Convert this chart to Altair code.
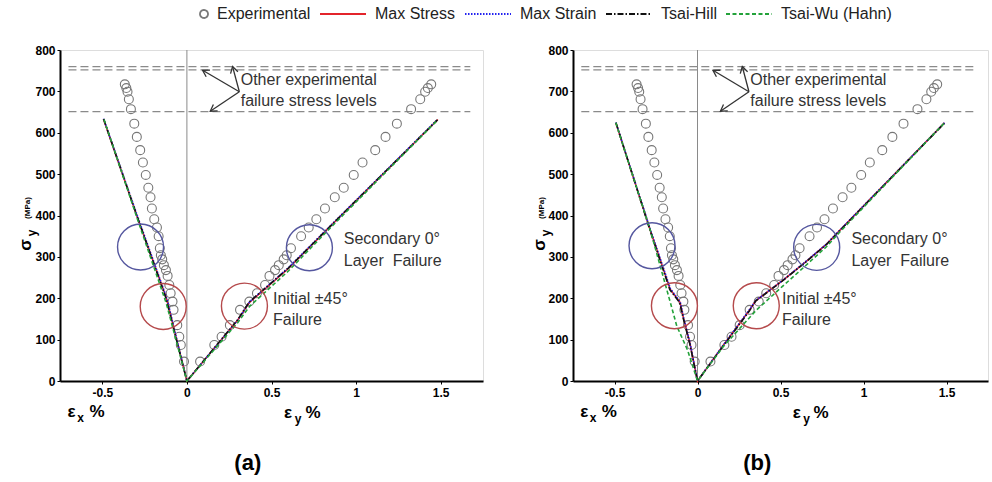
import math
import altair as alt
import pandas as pd

FONT = "Liberation Sans"

# ---------------- series / legend ----------------
series_names = ["Experimental", "Max Stress", "Max Strain", "Tsai-Hill", "Tsai-Wu (Hahn)"]
series_colors = ["#7a7a7a", "#e3242b", "#2323f0", "#111111", "#23a23a"]
series_dashes = [[1, 0], [1, 0], [1.5, 1.5], [6, 2, 1.5, 2], [4, 2.5]]

# ---------------- experimental data (stress MPa, strains %) ----------------
exp_stress = [47, 87, 107, 135, 172, 192, 212, 232, 254, 268, 280, 294, 304, 321, 350,
              371, 391, 417, 444, 467, 498, 528, 558, 590, 622, 657, 681, 699, 708, 717]
exp_eps_x = [-0.017, -0.036, -0.045, -0.057, -0.079, -0.085, -0.096, -0.104, -0.114, -0.124,
             -0.136, -0.146, -0.154, -0.160, -0.167, -0.177, -0.193, -0.207, -0.215, -0.228,
             -0.243, -0.260, -0.276, -0.296, -0.311, -0.331, -0.343, -0.351, -0.358, -0.367]
exp_eps_y = [0.078, 0.162, 0.205, 0.254, 0.314, 0.369, 0.414, 0.462, 0.488, 0.521,
             0.543, 0.572, 0.590, 0.615, 0.675, 0.720, 0.765, 0.816, 0.874, 0.927,
             0.986, 1.038, 1.113, 1.174, 1.241, 1.325, 1.379, 1.408, 1.424, 1.444]

# ---------------- panel (a) predictions ----------------
a_max_stress_strain = [-0.493, -0.292, -0.125, -0.115, 0.0, 0.300, 0.370, 0.600, 0.850, 1.483]
a_max_stress_stress = [633, 395, 205, 190, 0, 147, 190, 272, 375, 632]
a_max_strain_strain = [-0.493, -0.290, -0.124, -0.113, 0.0, 0.302, 0.372, 0.600, 0.850, 1.483]
a_max_strain_stress = [634, 396, 206, 191, 0, 148, 192, 274, 376, 633]
a_tsai_hill_strain = [-0.492, -0.291, -0.127, -0.117, 0.0, 0.300, 0.368, 0.600, 0.850, 1.481]
a_tsai_hill_stress = [633, 394, 204, 189, 0, 148, 191, 273, 375, 631]
a_tsai_wu_strain = [-0.490, -0.293, -0.132, -0.120, 0.0, 0.300, 0.372, 0.600, 0.850, 1.480]
a_tsai_wu_stress = [632, 392, 200, 185, 0, 141, 181, 266, 371, 630]

# ---------------- panel (b) predictions ----------------
b_max_stress_strain = [-0.492, -0.284, -0.165, -0.105, -0.085, -0.045, 0.0, 0.153, 0.311, 0.351, 0.510, 0.649, 0.778, 0.857, 1.488]
b_max_stress_stress = [624, 364, 222, 190, 153, 90, 0, 85, 170, 194, 242, 287, 331, 364, 624]
b_max_strain_strain = [-0.492, -0.283, -0.163, -0.104, -0.084, -0.044, 0.0, 0.152, 0.310, 0.352, 0.512, 0.650, 0.780, 0.858, 1.488]
b_max_strain_stress = [625, 365, 223, 191, 154, 90, 0, 85, 171, 195, 243, 288, 332, 365, 624]
b_tsai_hill_strain = [-0.491, -0.285, -0.167, -0.107, -0.086, -0.046, 0.0, 0.154, 0.312, 0.350, 0.508, 0.648, 0.777, 0.856, 1.487]
b_tsai_hill_stress = [624, 363, 221, 189, 152, 89, 0, 84, 169, 193, 241, 286, 330, 363, 623]
b_tsai_wu_strain = [-0.492, -0.284, -0.150, -0.125, -0.060, 0.0, 0.153, 0.351, 0.510, 0.649, 0.778, 0.857, 1.488]
b_tsai_wu_stress = [624, 364, 170, 133, 75, 0, 82, 170, 228, 278, 325, 360, 624]

# ---------------- annotations ----------------
ref_levels = [760, 752, 651]
ref_x_start, ref_x_end = -0.70, 1.675
arrow_from = (0.31, 699)
arrow_tip_x = [0.093, 0.270, 0.138]
arrow_tip_y = [751, 760, 652]

a_circle_x = [-0.274, -0.140, 0.340, 0.724]
a_circle_y = [324, 180, 181, 322]
b_circle_x = [-0.274, -0.139, 0.354, 0.718]
b_circle_y = [327, 182, 182, 323]
circle_kind = ["secondary", "initial", "initial", "secondary"]

note_text = ["Other experimental", "failure stress levels", "Secondary 0°", "Layer\u00a0 Failure",
             "Initial ±45°", "Failure"]
note_x = [0.318, 0.318, 0.927, 0.927, 0.509, 0.509]
note_y = [728, 676, 342, 291, 198, 147]

# axis-label glyphs (drawn as text): text, x, y, font size, angle
lab_text = ["ε", "x", "%", "ε", "y", "%", "σ", "y", "(MPa)"]
lab_x = [-0.682, -0.629, -0.531, 0.598, 0.657, 0.745, -0.951, -0.915, -0.939]
lab_y = [-75, -90, -75, -77, -91, -77, 329, 358, 418]
lab_size = [17, 12, 17, 17, 12, 17, 17, 12, 8]
lab_angle = [0, 0, 0, 0, 0, 0, 270, 270, 270]

PANEL_H = 331
X_DOMAIN = [-0.75, 1.75]
Y_DOMAIN = [0, 800]

color_scale = alt.Scale(domain=series_names, range=series_colors)
dash_scale = alt.Scale(domain=series_names, range=series_dashes)
circle_path = "M0.652,0A0.174,0.174,0,1,1,1.0,0A0.174,0.174,0,1,1,0.652,0Z"
line_path = "M-1,0L1,0"
shape_scale = alt.Scale(domain=series_names, range=[circle_path, line_path, line_path, line_path, line_path])

xaxis = alt.Axis(values=[-0.5, 0, 0.5, 1, 1.5],
                 labelExpr="datum.value < 0 ? '-' + format(-datum.value, '~g') : format(datum.value, '~g')",
                 title=None, grid=False, domainColor="#000", domainWidth=2, tickColor="#000",
                 tickSize=3, tickWidth=1, labelFont=FONT, labelFontSize=12, labelFontWeight="bold",
                 labelColor="#000", labelPadding=3, labelFlush=False)
yaxis = alt.Axis(values=list(range(0, 801, 100)), title=None, grid=False, domainColor="#000",
                 domainWidth=2, tickColor="#000", tickSize=3, tickWidth=1, labelFont=FONT,
                 labelFontSize=12, labelFontWeight="bold", labelColor="#000", labelPadding=2,
                 labelFlush=False)


def curve_df(xs_, ys_):
    return pd.DataFrame({"strain": xs_, "stress": ys_, "idx": list(range(len(xs_)))})


def make_panel(width, curves, cx, cy, tag, with_legend):
    xs = alt.Scale(domain=X_DOMAIN, nice=False, zero=False)
    ys = alt.Scale(domain=Y_DOMAIN, nice=False, zero=False)

    def X(f):
        return alt.X(f, type="quantitative", scale=xs, axis=xaxis)

    def Y(f):
        return alt.Y(f, type="quantitative", scale=ys, axis=yaxis)

    sx = width / (X_DOMAIN[1] - X_DOMAIN[0])
    sy = PANEL_H / (Y_DOMAIN[1] - Y_DOMAIN[0])

    layers = []
    # vertical zero line
    vline = pd.DataFrame({"x": [0.0], "y0": [Y_DOMAIN[0]], "y1": [Y_DOMAIN[1]]})
    layers.append(alt.Chart(vline).mark_rule(color="#8a8a8a", strokeWidth=1).encode(
        x=X("x"), y=Y("y0"), y2="y1"))
    # dashed failure levels
    ref = pd.DataFrame({"lvl": ref_levels, "x0": ref_x_start, "x1": ref_x_end})
    layers.append(alt.Chart(ref).mark_rule(color="#8a8a8a", strokeWidth=1.3, strokeDash=[8, 4]).encode(
        x=X("x0"), x2="x1", y=Y("lvl")))
    # experimental points
    exp = pd.DataFrame({"strain": exp_eps_x + exp_eps_y, "stress": exp_stress + exp_stress})
    layers.append(alt.Chart(exp).mark_point(shape="circle", filled=False, size=80, strokeWidth=1.1,
                                           color="#777777", opacity=1).encode(
        x=X("strain"), y=Y("stress")))
    # predictions, one layer per criterion (static styles)
    for name in series_names[1:]:
        k = series_names.index(name)
        cxs, cys = curves[name]
        layers.append(alt.Chart(curve_df(cxs, cys)).mark_line(
            strokeWidth=1.6, color=series_colors[k], strokeDash=series_dashes[k]).encode(
            x=X("strain"), y=Y("stress"), order="idx:Q"))
    # highlight circles
    circ = pd.DataFrame({"x": cx, "y": cy, "kind": circle_kind})
    layers.append(alt.Chart(circ).transform_filter("datum.kind == 'secondary'").mark_point(
        shape="circle", filled=False, size=2116, strokeWidth=1.4, color="#55579f", opacity=1).encode(
        x=X("x"), y=Y("y")))
    layers.append(alt.Chart(circ).transform_filter("datum.kind == 'initial'").mark_point(
        shape="circle", filled=False, size=2116, strokeWidth=1.4, color="#b54a4c", opacity=1).encode(
        x=X("x"), y=Y("y")))
    # arrows
    ox, oy = arrow_from
    angles = []
    for tx, ty in zip(arrow_tip_x, arrow_tip_y):
        ang = math.degrees(math.atan2(-(ty - oy) * sy, (tx - ox) * sx)) % 360
        angles.append(ang)
    arr = pd.DataFrame({"x0": ox, "y0": oy, "x1": arrow_tip_x, "y1": arrow_tip_y, "ang": angles})
    layers.append(alt.Chart(arr).mark_rule(color="#333333", strokeWidth=1.3).encode(
        x=X("x0"), y=Y("y0"), x2="x1", y2="y1"))
    layers.append(alt.Chart(arr).mark_point(shape="M-1,-0.6L0,0L-1,0.6", filled=False, size=160,
                                           strokeWidth=1.3, color="#333333", opacity=1).encode(
        x=X("x1"), y=Y("y1"), angle=alt.Angle("ang:Q", scale=None)))
    # annotation text
    notes = pd.DataFrame({"t": note_text, "x": note_x, "y": note_y})
    layers.append(alt.Chart(notes).mark_text(align="left", baseline="middle", font=FONT,
                                            fontSize=16, color="#333333").encode(
        x=X("x"), y=Y("y"), text="t:N"))
    # axis-label glyphs
    labs = pd.DataFrame({"t": lab_text, "x": lab_x, "y": lab_y, "fs": lab_size, "ang": lab_angle})
    layers.append(alt.Chart(labs).mark_text(align="center", baseline="middle", font=FONT,
                                           fontWeight="bold", color="#000").encode(
        x=X("x"), y=Y("y"), text="t:N", size=alt.Size("fs:Q", scale=None),
        angle=alt.Angle("ang:Q", scale=None)))
    # panel tag
    tagdf = pd.DataFrame({"t": [tag], "x": [0.36], "y": [-198]})
    layers.append(alt.Chart(tagdf).mark_text(align="center", baseline="middle", font=FONT,
                                            fontWeight="bold", fontSize=22, color="#000").encode(
        x=X("x"), y=Y("y"), text="t:N"))
    if with_legend:
        leg = alt.Legend(title=None, orient="none", legendX=101, legendY=-60, direction="horizontal",
                         columns=5, symbolSize=2116, symbolStrokeWidth=1.8, labelFont=FONT,
                         labelFontSize=16, labelColor="#222222", labelOffset=8, columnPadding=5,
                         labelLimit=400, padding=0)
        legdf = pd.DataFrame({"series": series_names})
        layers.append(alt.Chart(legdf).transform_filter("false").mark_point(filled=False, opacity=1).encode(
            color=alt.Color("series:N", scale=color_scale, legend=leg),
            shape=alt.Shape("series:N", scale=shape_scale, legend=leg),
            strokeDash=alt.StrokeDash("series:N", scale=dash_scale, legend=leg)))
    return alt.layer(*layers).properties(width=width, height=PANEL_H)


curves_a = {
    "Max Stress": (a_max_stress_strain, a_max_stress_stress),
    "Max Strain": (a_max_strain_strain, a_max_strain_stress),
    "Tsai-Hill": (a_tsai_hill_strain, a_tsai_hill_stress),
    "Tsai-Wu (Hahn)": (a_tsai_wu_strain, a_tsai_wu_stress),
}
curves_b = {
    "Max Stress": (b_max_stress_strain, b_max_stress_stress),
    "Max Strain": (b_max_strain_strain, b_max_strain_stress),
    "Tsai-Hill": (b_tsai_hill_strain, b_tsai_hill_stress),
    "Tsai-Wu (Hahn)": (b_tsai_wu_strain, b_tsai_wu_stress),
}

panel_a = make_panel(423, curves_a, a_circle_x, a_circle_y, "(a)", True)
panel_b = make_panel(415, curves_b, b_circle_x, b_circle_y, "(b)", False)

chart = alt.hconcat(panel_a, panel_b, spacing=90, bounds="flush").properties(
    padding={"left": 16, "top": -10, "right": 0, "bottom": 0},
    autosize=alt.AutoSizeParams(type="pad"),
).configure_view(stroke=None).configure(background="white", font=FONT)

chart.save("out.html", embed_options={"renderer": "svg", "actions": False})
